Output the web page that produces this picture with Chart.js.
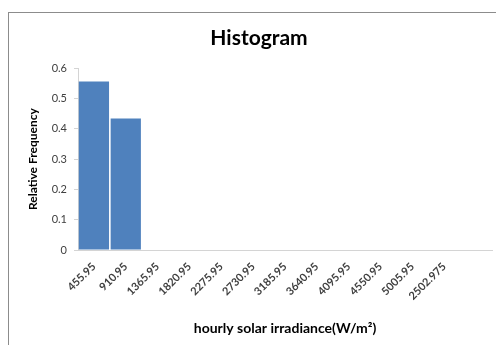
<!DOCTYPE html>
<html>
<head>
<meta charset="utf-8">
<script src="https://cdn.jsdelivr.net/npm/chart.js@4/dist/chart.umd.min.js"></script>
<style>
  html, body { margin: 0; padding: 0; background: #fff; overflow: hidden; }
  #wrap { position: relative; width: 496px; height: 345px; }
  #frame { position: absolute; left: 8px; top: 12px; width: 600px; height: 400px;
           border-left: 1px solid #8c8c8c; border-top: 1px solid #8c8c8c; box-sizing: border-box; }
  canvas { position: absolute; left: 0; top: 0; }
</style>
</head>
<body>
<div id="wrap">
  <div id="frame"></div>
  <canvas id="c" width="496" height="345"></canvas>
</div>
<script>
// Bin labels (upper bin edges) and relative frequency per bin
const binLabels = ['455.95', '910.95', '1365.95', '1820.95', '2275.95', '2730.95',
                   '3185.95', '3640.95', '4095.95', '4550.95', '5005.95', '2502.975', ''];
const relFreq = [0.556, 0.434, 0, 0, 0, 0, 0, 0, 0, 0, 0, 0, 0];
const yTicks = [0, 0.1, 0.2, 0.3, 0.4, 0.5, 0.6];

const FONT = 'Lato, "Open Sans", sans-serif';

new Chart(document.getElementById('c'), {
  type: 'bar',
  data: {
    labels: binLabels,
    datasets: [{
      data: relFreq,
      backgroundColor: '#4f81bd',
      borderWidth: 0,
      categoryPercentage: 1,
      barPercentage: 0.95
    }]
  },
  options: {
    responsive: false,
    animation: false,
    layout: { padding: { left: 26, right: 4, top: 26, bottom: 8 } },
    plugins: {
      legend: { display: false },
      tooltip: { enabled: false },
      title: {
        display: true,
        text: 'Histogram',
        color: '#000',
        font: { family: FONT, size: 21, weight: 'bold' },
        padding: { top: 0, bottom: 17 }
      }
    },
    scales: {
      x: {
        offset: true,
        grid: { display: false },
        border: { display: true, color: '#d4d4d4', width: 1 },
        ticks: {
          color: '#404040',
          font: { family: FONT, size: 11, weight: 'bold' },
          minRotation: 45,
          maxRotation: 45,
          autoSkip: false,
          padding: 2
        },
        title: {
          display: true,
          text: 'hourly solar irradiance(W/m²)',
          color: '#000',
          font: { family: FONT, size: 14, weight: 'bold' },
          padding: { top: 0, bottom: 0 }
        },
        afterFit: (s) => { s.height = 87; }
      },
      y: {
        min: 0,
        max: 0.6,
        afterBuildTicks: (s) => { s.ticks = yTicks.map(v => ({ value: v })); },
        grid: { display: true, drawOnChartArea: false, drawTicks: true, tickLength: 4, color: '#d4d4d4' },
        border: { display: true, color: '#d4d4d4' },
        ticks: {
          color: '#404040',
          font: { family: FONT, size: 11 },
          padding: 7,
          callback: (v) => String(Math.round(v * 10) / 10)
        },
        title: {
          display: true,
          text: 'Relative Frequency',
          color: '#000',
          font: { family: FONT, size: 12, weight: 'bold' },
          padding: { top: 0, bottom: 0 }
        },
        afterFit: (s) => { s.width = 52; }
      }
    }
  }
});
</script>
</body>
</html>
